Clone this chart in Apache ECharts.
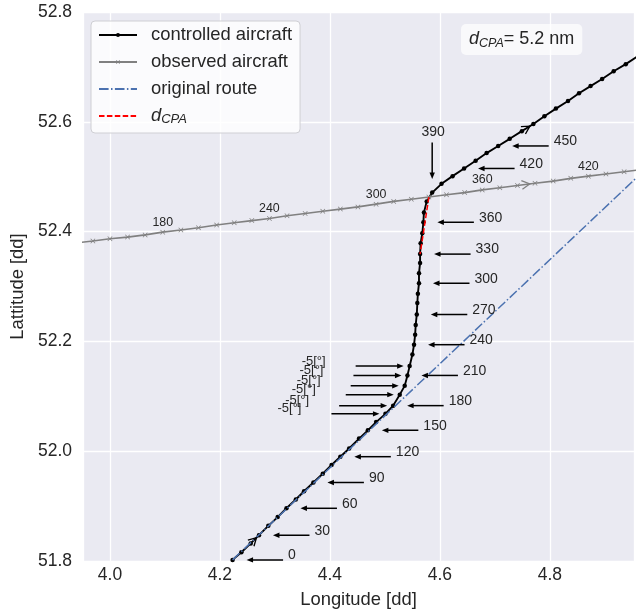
<!DOCTYPE html>
<html><head><meta charset="utf-8">
<script src="https://cdn.jsdelivr.net/npm/echarts@6/dist/echarts.min.js"></script>
<style>html,body{margin:0;padding:0;background:#fff}#c{width:639px;height:614px}</style>
</head><body><div id="c"></div>
<script>
// ---- data ----
const ctrlTime = [0,10,20,30,40,50,60,70,80,90,100,110,120,130,140,150,160,170,180,190,200,210,220,230,240,250,260,270,280,290,300,310,320,330,340,350,360,370,380,390,400,410,420,430,440,450,460,470,480,490,500,510,520,530,540,550,560,570];
const ctrlLon = [4.223,4.239,4.256,4.271,4.288,4.305,4.321,4.338,4.353,4.370,4.387,4.403,4.419,4.435,4.453,4.469,4.484,4.501,4.515,4.527,4.536,4.541,4.545,4.550,4.553,4.555,4.556,4.558,4.559,4.560,4.562,4.562,4.564,4.564,4.565,4.568,4.570,4.571,4.576,4.586,4.603,4.623,4.644,4.665,4.685,4.706,4.727,4.749,4.770,4.790,4.811,4.833,4.853,4.874,4.895,4.916,4.938,4.959];
const ctrlLat = [51.802,51.816,51.832,51.847,51.864,51.880,51.896,51.912,51.927,51.943,51.959,51.975,51.990,52.005,52.023,52.038,52.053,52.068,52.083,52.103,52.119,52.138,52.155,52.176,52.194,52.212,52.230,52.249,52.270,52.287,52.306,52.324,52.343,52.359,52.379,52.397,52.417,52.435,52.455,52.471,52.487,52.501,52.515,52.529,52.543,52.556,52.569,52.583,52.596,52.610,52.624,52.638,52.652,52.665,52.678,52.692,52.705,52.719];

const obsTime = [130,140,150,160,170,180,190,200,210,220,230,240,250,260,270,280,290,300,310,320,330,340,350,360,370,380,390,400,410,420,430,440,450];
const obsLon = [3.937,3.969,4.000,4.032,4.064,4.096,4.129,4.161,4.194,4.226,4.258,4.290,4.322,4.355,4.387,4.419,4.451,4.484,4.516,4.548,4.580,4.612,4.645,4.677,4.709,4.741,4.773,4.806,4.838,4.870,4.902,4.935,4.967];
const obsLat = [52.379,52.383,52.387,52.390,52.394,52.399,52.403,52.407,52.412,52.416,52.420,52.424,52.429,52.433,52.437,52.441,52.445,52.450,52.455,52.459,52.463,52.467,52.471,52.476,52.480,52.484,52.488,52.492,52.497,52.501,52.505,52.509,52.513];

const routeLon = [4.223, 4.970];
const routeLat = [51.802, 52.510];

const cpaTime = 330;
const cpaNm = 5.2;

const ctrlLabelTimes = [0,30,60,90,120,150,180,210,240,270,300,330,360,390,420,450];
const ctrlTopLabelTime = 390;
const obsLabelTimes = [180,240,300,360,420];
const cmdTimes = [170,180,190,200,210,220];
const cmdLabel = '-5[°]';
const ctrlArrowTimes = [20,470];
const obsArrowTimes = [380];

const seriesNames = ['controlled aircraft','observed aircraft','original route','dCPA'];
const xLabelDigits = 1, yLabelDigits = 1;

// ---- chart ----
const FONT = '"Liberation Sans", Arial, Helvetica, sans-serif';
const TXT = '#262626';
const pairs = (a, b) => a.map((v, i) => [v, b[i]]);
const ci = ctrlTime.indexOf(cpaTime), oi = obsTime.indexOf(cpaTime);

const labelData = ctrlLabelTimes.map(t => { const i = ctrlTime.indexOf(t); return [ctrlLon[i], ctrlLat[i], t]; });
const obsLabelData = obsLabelTimes.map(t => { const i = obsTime.indexOf(t); return [obsLon[i], obsLat[i], t]; });
const cmdData = cmdTimes.map(t => { const i = ctrlTime.indexOf(t); return [ctrlLon[i], ctrlLat[i], t]; });
function chevrons(times, T, LON, LAT) {
  const f = 0.7;
  return times.map(t => { const i = T.indexOf(t);
    return [LON[i] + (LON[i+1]-LON[i])*f, LAT[i] + (LAT[i+1]-LAT[i])*f, LON[i], LAT[i]]; });
}

function chevronRender(color) {
  return function (params, api) {
    const tip = api.coord([api.value(0), api.value(1)]);
    const prv = api.coord([api.value(2), api.value(3)]);
    const ang = Math.atan2(tip[1]-prv[1], tip[0]-prv[0]);
    const L = 9, a = 0.5;
    const p1 = [tip[0] - L*Math.cos(ang - a), tip[1] - L*Math.sin(ang - a)];
    const p2 = [tip[0] - L*Math.cos(ang + a), tip[1] - L*Math.sin(ang + a)];
    return { type: 'polyline', shape: { points: [p1, tip, p2] }, style: { stroke: color, lineWidth: 1.3, fill: null } };
  };
}

function hArrow(tipX, tailX, y, children) {
  const dir = tailX > tipX ? 1 : -1;
  children.push({ type: 'line', shape: { x1: tailX, y1: y, x2: tipX + dir*5, y2: y }, style: { stroke: '#000', lineWidth: 1.5 } });
  children.push({ type: 'polygon', shape: { points: [[tipX, y], [tipX + dir*6.5, y - 2.7], [tipX + dir*6.5, y + 2.7]] }, style: { fill: '#000' } });
}

const option = {
  animation: false,
  backgroundColor: '#ffffff',
  textStyle: { fontFamily: FONT },
  grid: { left: 83, right: 5, top: 12, bottom: 52, show: true, backgroundColor: '#EAEAF2', borderWidth: 0 },
  title: {
    text: '{i|d}{s|CPA}= ' + cpaNm.toFixed(1) + ' nm',
    left: 461, top: 24,
    backgroundColor: 'rgba(255,255,255,0.7)', borderRadius: 5, padding: [4, 8, 5, 8],
    textStyle: { fontSize: 18, fontWeight: 'normal', color: TXT, fontFamily: FONT, lineHeight: 22,
      rich: { i: { fontStyle: 'italic', fontSize: 18, color: TXT, fontFamily: FONT, lineHeight: 22 },
              s: { fontStyle: 'italic', fontSize: 12.5, color: TXT, fontFamily: FONT, lineHeight: 12, verticalAlign: 'bottom' } } }
  },
  legend: {
    orient: 'vertical', left: 91, top: 21,
    data: [ { name: seriesNames[0] }, { name: seriesNames[1] },
            { name: seriesNames[2], itemStyle: { opacity: 0 } }, { name: seriesNames[3], itemStyle: { opacity: 0 } } ],
    formatter: n => n === 'dCPA' ? '{i|d}{s|CPA}' : n,
    backgroundColor: 'rgba(255,255,255,0.8)', borderColor: '#cfcfd4', borderWidth: 1, borderRadius: 4,
    padding: [4, 8, 7, 7], itemWidth: 38, itemHeight: 5, itemGap: 7,
    textStyle: { fontSize: 18.4, color: TXT, fontFamily: FONT, lineHeight: 20, padding: [0, 0, 0, 9],
      rich: { i: { fontStyle: 'italic', fontSize: 18.4, color: TXT, fontFamily: FONT, lineHeight: 20 },
              s: { fontStyle: 'italic', fontSize: 13, color: TXT, fontFamily: FONT, lineHeight: 13, verticalAlign: 'bottom' } } },
    selectedMode: false
  },
  xAxis: {
    type: 'value', min: 3.951, max: 4.953, splitNumber: 5,
    axisLine: { show: false }, axisTick: { show: false },
    splitLine: { show: true, lineStyle: { color: '#ffffff', width: 1.3 } },
    axisLabel: { showMinLabel: false, showMaxLabel: false, formatter: v => v.toFixed(xLabelDigits), fontSize: 17.5, color: TXT, margin: 5, fontFamily: FONT },
    name: 'Longitude [dd]', nameLocation: 'middle', nameGap: 30,
    nameTextStyle: { fontSize: 18.4, color: TXT, fontFamily: FONT }
  },
  yAxis: {
    type: 'value', min: 51.8, max: 52.8, interval: 0.2,
    axisLine: { show: false }, axisTick: { show: false },
    splitLine: { show: true, lineStyle: { color: '#ffffff', width: 1.3 } },
    axisLabel: { formatter: v => v.toFixed(yLabelDigits), fontSize: 17.5, color: TXT, margin: 11, fontFamily: FONT },
    name: 'Lattitude [dd]', nameLocation: 'middle', nameGap: 50, nameRotate: 90,
    nameTextStyle: { fontSize: 18.4, color: TXT, fontFamily: FONT }
  },
  series: [
    { name: seriesNames[0], type: 'line', data: pairs(ctrlLon, ctrlLat), symbol: 'circle', symbolSize: 4.5, showAllSymbol: true,
      lineStyle: { color: '#000', width: 1.9 }, itemStyle: { color: '#000' }, z: 2, clip: true },
    { name: seriesNames[1], type: 'line', data: pairs(obsLon, obsLat),
      symbol: 'path://M0,1 L1,0 L5,4 L9,0 L10,1 L6,5 L10,9 L9,10 L5,6 L1,10 L0,9 L4,5 Z', symbolSize: 5, showAllSymbol: true,
      lineStyle: { color: '#808080', width: 1.6 }, itemStyle: { color: '#808080' }, z: 3, clip: true },
    { name: seriesNames[2], type: 'line', data: pairs(routeLon, routeLat), symbol: 'none',
      lineStyle: { color: '#4C72B0', width: 1.5, type: [9.6, 2.4, 1.5, 2.4] }, itemStyle: { color: '#4C72B0' }, z: 4, clip: true },
    { name: seriesNames[3], type: 'line', data: [[obsLon[oi], obsLat[oi]], [ctrlLon[ci], ctrlLat[ci]]], symbol: 'none',
      lineStyle: { color: '#ff0000', width: 1.5, type: [5.5, 2.4] }, itemStyle: { color: '#ff0000' }, z: 5, clip: true },
    { type: 'custom', coordinateSystem: 'cartesian2d', data: chevrons(ctrlArrowTimes, ctrlTime, ctrlLon, ctrlLat),
      encode: { x: 0, y: 1 }, renderItem: chevronRender('#000'), z: 6, silent: true },
    { type: 'custom', coordinateSystem: 'cartesian2d', data: chevrons(obsArrowTimes, obsTime, obsLon, obsLat),
      encode: { x: 0, y: 1 }, renderItem: chevronRender('#808080'), z: 6, silent: true },
    { type: 'custom', coordinateSystem: 'cartesian2d', data: labelData, encode: { x: 0, y: 1 }, z: 7, silent: true,
      renderItem: (params, api) => {
        const p = api.coord([api.value(0), api.value(1)]);
        const t = api.value(2);
        const ch = [];
        if (t === ctrlTopLabelTime) {
          const tipY = p[1] - 13.5, tailY = p[1] - 50;
          ch.push({ type: 'line', shape: { x1: p[0], y1: tailY, x2: p[0], y2: tipY - 5 }, style: { stroke: '#000', lineWidth: 1.5 } });
          ch.push({ type: 'polygon', shape: { points: [[p[0], tipY], [p[0]-2.7, tipY-6.5], [p[0]+2.7, tipY-6.5]] }, style: { fill: '#000' } });
          ch.push({ type: 'text', style: { text: String(t), x: p[0] + 1, y: tailY - 10, align: 'center', verticalAlign: 'middle', fill: TXT, fontSize: 14, fontFamily: FONT } });
        } else {
          const tipX = p[0] + 14, tailX = p[0] + 50.5;
          hArrow(tipX, tailX, p[1], ch);
          ch.push({ type: 'text', style: { text: String(t), x: tailX + 5, y: p[1] - 4.5, align: 'left', verticalAlign: 'middle', fill: TXT, fontSize: 14, fontFamily: FONT } });
        }
        return { type: 'group', children: ch };
      } },
    { type: 'custom', coordinateSystem: 'cartesian2d', data: obsLabelData, encode: { x: 0, y: 1 }, z: 7, silent: true,
      renderItem: (params, api) => {
        const p = api.coord([api.value(0), api.value(1)]);
        return { type: 'text', style: { text: String(api.value(2)), x: p[0], y: p[1] - 10, align: 'center', verticalAlign: 'middle', fill: TXT, fontSize: 12.4, fontFamily: FONT } };
      } },
    { type: 'custom', coordinateSystem: 'cartesian2d', data: cmdData, encode: { x: 0, y: 1 }, z: 7, silent: true,
      renderItem: (params, api) => {
        const p = api.coord([api.value(0), api.value(1)]);
        const ch = [];
        const tipX = p[0] - 6, tailX = p[0] - 54;
        hArrow(tipX, tailX, p[1], ch);
        ch.push({ type: 'text', style: { text: cmdLabel, x: tailX - 30, y: p[1] - 5, align: 'right', verticalAlign: 'middle', fill: TXT, fontSize: 13, fontFamily: FONT } });
        return { type: 'group', children: ch };
      } }
  ]
};
const chart = echarts.init(document.getElementById('c'));
chart.setOption(option);
</script>
</body></html>
